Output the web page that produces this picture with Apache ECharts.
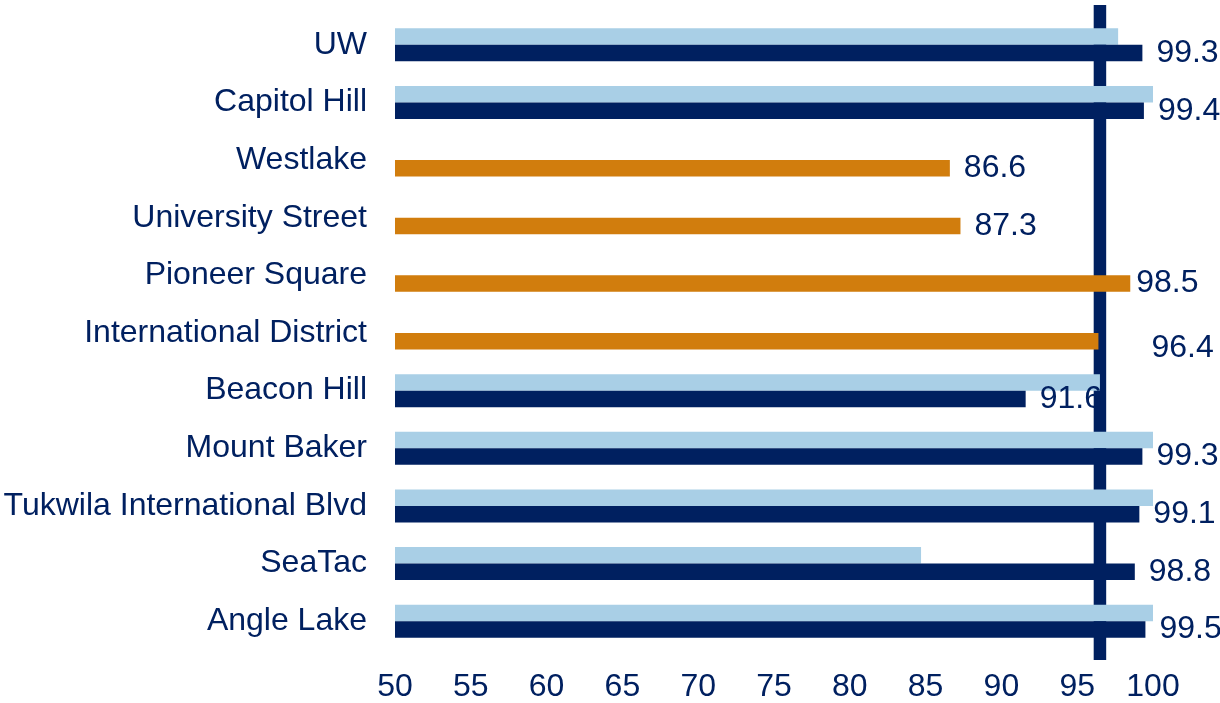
<!DOCTYPE html>
<html>
<head>
<meta charset="utf-8">
<script src="https://cdn.jsdelivr.net/npm/echarts@6/dist/echarts.min.js"></script>
<style>
  html, body { margin: 0; padding: 0; background: #fff; }
  #chart { width: 1220px; height: 703px; }
</style>
</head>
<body>
<div id="chart"></div>
<script>
// station names, top to bottom
const stations = ["UW", "Capitol Hill", "Westlake", "University Street", "Pioneer Square",
  "International District", "Beacon Hill", "Mount Baker", "Tukwila International Blvd", "SeaTac", "Angle Lake"];
// light bars (no value for the downtown tunnel stations)
const lightValues = [97.7, 100, null, null, null, null, 96.5, 100, 100, 84.7, 100];
// dark / orange bars, labelled
const mainValues = [99.3, 99.4, 86.6, 87.3, 98.5, 96.4, 91.6, 99.3, 99.1, 98.8, 99.5];
// which stations get the orange bar
const orangeStations = ["Westlake", "University Street", "Pioneer Square", "International District"];
// vertical reference line
const targetValue = 96.5;
const xTicks = [50, 55, 60, 65, 70, 75, 80, 85, 90, 95, 100];

const NAVY = "#002060";
const LIGHT = "#a9cfe6";
const ORANGE = "#d17d0d";
const FONT = "Liberation Sans, Arial, sans-serif";

// a couple of labels were nudged by hand in the original
const labelTweaks = {
  "Pioneer Square": { distance: 6 },
  "International District": { distance: 53, offset: [0, 7] },
};

const chart = echarts.init(document.getElementById("chart"));

const mainData = mainValues.map((v, i) => {
  const name = stations[i];
  const item = { value: v };
  if (orangeStations.includes(name)) item.itemStyle = { color: ORANGE };
  if (labelTweaks[name]) item.label = labelTweaks[name];
  return item;
});

chart.setOption({
  animation: false,
  grid: [
    { left: 395, right: 67, top: 16, bottom: 53 },
    { left: 395, right: 67, top: 5, bottom: 43 },  // taller grid for the reference line
  ],
  xAxis: [
    {
      type: "value", gridIndex: 0, min: 50, max: 100, interval: 5,
      axisLine: { show: false }, axisTick: { show: false }, splitLine: { show: false },
      axisLabel: {
        color: NAVY, fontSize: 32, fontFamily: FONT, margin: 21,
        formatter: v => xTicks.includes(v) ? String(v) : "",
      },
    },
    { type: "value", gridIndex: 1, min: 50, max: 100, show: false },
  ],
  yAxis: [
    {
      type: "category", gridIndex: 0, data: stations, inverse: true,
      axisLine: { show: false }, axisTick: { show: false },
      axisLabel: { color: NAVY, fontSize: 32, fontFamily: FONT, margin: 28 },
    },
    { type: "value", gridIndex: 1, min: 0, max: 1, show: false },
  ],
  series: [
    {
      name: "light", type: "bar", data: lightValues,
      barWidth: 16.5, barGap: "0%", z: 2,
      itemStyle: { color: LIGHT },
    },
    {
      name: "main", type: "bar", data: mainData,
      barWidth: 16.5, barGap: "0%", z: 2,
      itemStyle: { color: NAVY },
      label: {
        show: true, position: "right", distance: 14,
        color: NAVY, fontSize: 32, fontFamily: FONT,
        formatter: p => p.value.toFixed(1),
      },
    },
    {
      name: "target", type: "line", xAxisIndex: 1, yAxisIndex: 1, z: 1,
      data: [[targetValue, 0], [targetValue, 1]],
      symbol: "none", lineStyle: { color: NAVY, width: 12.5 },
    },
  ],
});
</script>
</body>
</html>
